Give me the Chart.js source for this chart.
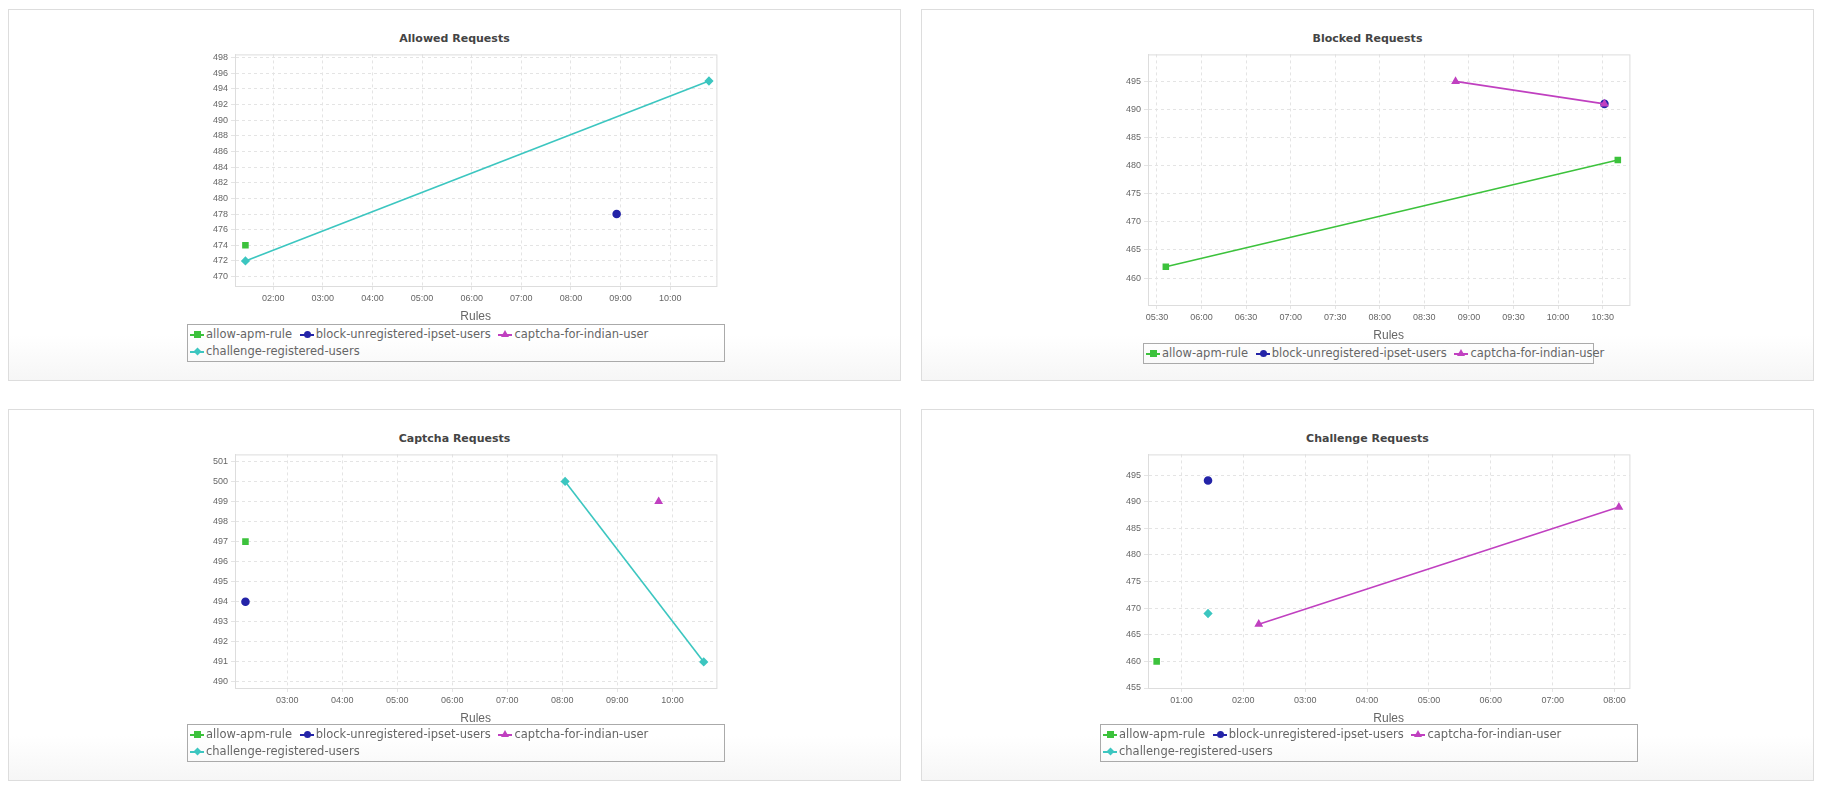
<!DOCTYPE html>
<html>
<head>
<meta charset="utf-8">
<script src="https://cdn.jsdelivr.net/npm/chart.js@4.4.1/dist/chart.umd.min.js"></script>
<style>
  body { margin:0; background:#fff; font-family:"DejaVu Sans", sans-serif; }
  .panel { position:absolute; width:893px; height:372px; border:1px solid #ddd; box-sizing:border-box;
           background:linear-gradient(#fff 88%, #f6f6f6); }
  .title { position:absolute; left:0; width:100%; top:22px; text-align:center; font-weight:bold; font-size:11px; color:#444; }
  .panel canvas { position:absolute; }
  .legend { position:absolute; border:1px solid #aaa; box-sizing:border-box; font-size:11.5px; color:#666; padding:1px 2px; line-height:17px; }
  .legend span.item { margin-right:4px; white-space:nowrap; }
  .legend i { display:inline-block; width:14px; height:2px; vertical-align:middle; position:relative; margin-right:2px; }
  .legend i b { position:absolute; left:4px; top:-3px; width:7px; height:7px; }
</style>
</head>
<body>
<div id="root"></div>
<script>
// series names and colours
const seriesNames = ['allow-apm-rule', 'block-unregistered-ipset-users', 'captcha-for-indian-user', 'challenge-registered-users'];
const seriesColors = ['#3cc23c', '#2424a8', '#c040c0', '#3cc6c0'];
const seriesShapes = ['rect', 'circle', 'triangle', 'rectRot'];

// x values are hours of the day
const allowedAllow = [[1.44, 474]];
const allowedBlock = [[8.92, 478]];
const allowedCaptcha = [];
const allowedChallenge = [[1.44, 472], [10.78, 495]];

const blockedAllow = [[5.60, 462], [10.67, 481]];
const blockedBlock = [[10.52, 491]];
const blockedCaptcha = [[8.85, 495], [10.52, 491]];

const captchaAllow = [[2.24, 497]];
const captchaBlock = [[2.24, 494]];
const captchaCaptcha = [[9.75, 499]];
const captchaChallenge = [[8.05, 500], [10.57, 491]];

const challengeAllow = [[0.60, 460]];
const challengeBlock = [[1.43, 494]];
const challengeCaptcha = [[2.25, 467], [8.07, 489]];
const challengeChallenge = [[1.43, 469]];

const panels = [
  { title:'Allowed Requests', left:8, top:9, series:[allowedAllow, allowedBlock, allowedCaptcha, allowedChallenge],
    xmin:1.23, xmax:10.93, xstep:1, ymin:468.8, ymax:498.4, ystep:2, plotBottom:276, legend:[178, 314, 538] },
  { title:'Blocked Requests', left:921, top:9, series:[blockedAllow, blockedBlock, blockedCaptcha],
    xmin:5.40, xmax:10.80, xstep:0.5, ymin:455.2, ymax:499.8, ystep:5, plotBottom:295, legend:[221, 333, 451] },
  { title:'Captcha Requests', left:8, top:409, series:[captchaAllow, captchaBlock, captchaCaptcha, captchaChallenge],
    xmin:2.05, xmax:10.80, xstep:1, ymin:489.7, ymax:501.35, ystep:1, plotBottom:278, legend:[178, 314, 538] },
  { title:'Challenge Requests', left:921, top:409, series:[challengeAllow, challengeBlock, challengeCaptcha, challengeChallenge],
    xmin:0.46, xmax:8.24, xstep:1, ymin:455, ymax:498.9, ystep:5, plotBottom:278, legend:[178, 314, 538] }
];

function hhmm(v) {
  const m = Math.round(v * 60);
  return String(Math.floor(m / 60)).padStart(2, '0') + ':' + String(m % 60).padStart(2, '0');
}

const root = document.getElementById('root');
panels.forEach(p => {
  const div = document.createElement('div');
  div.className = 'panel';
  div.style.left = p.left + 'px';
  div.style.top = p.top + 'px';
  div.innerHTML = '<div class="title">' + p.title + '</div>';
  const canvas = document.createElement('canvas');
  const cTop = 36, cLeft = 180, cWidth = 533;
  const cHeight = p.plotBottom + 38 - cTop;
  canvas.style.left = cLeft + 'px';
  canvas.style.top = cTop + 'px';
  canvas.style.width = cWidth + 'px';
  canvas.style.height = cHeight + 'px';
  div.appendChild(canvas);

  // legend
  const lg = document.createElement('div');
  lg.className = 'legend';
  lg.style.left = p.legend[0] + 'px';
  lg.style.top = p.legend[1] + 'px';
  lg.style.width = p.legend[2] + 'px';
  if (p.series.length < 4) lg.style.whiteSpace = 'nowrap';
  p.series.forEach((s, i) => {
    const c = seriesColors[i];
    let mark = 'background:' + c + ';';
    if (i === 1) mark += 'border-radius:50%;';
    if (i === 2) mark = 'width:0;height:0;background:none;border-left:4px solid transparent;border-right:4px solid transparent;border-bottom:7px solid ' + c + ';left:3px;top:-4px;';
    if (i === 3) mark += 'transform:rotate(45deg) scale(0.8);';
    lg.innerHTML += '<span class="item"><i style="background:' + c + '"><b style="' + mark + '"></b></i>' + seriesNames[i] + '</span> ';
  });
  div.appendChild(lg);
  root.appendChild(div);

  new Chart(canvas, {
    type: 'line',
    data: {
      datasets: p.series.map((s, i) => ({
        label: seriesNames[i],
        data: s.map(d => ({ x: d[0], y: d[1] })),
        borderColor: seriesColors[i],
        backgroundColor: seriesColors[i],
        pointStyle: seriesShapes[i],
        pointRadius: 3.5,
        borderWidth: 1.6,
        tension: 0
      })).reverse()
    },
    options: {
      responsive: false,
      animation: false,
      layout: { padding: { top: 7, right: 3 } },
      plugins: { legend: { display: false }, tooltip: { enabled: false } },
      scales: {
        x: {
          type: 'linear', min: p.xmin, max: p.xmax,
          afterBuildTicks: sc => {
            const t = [];
            for (let v = Math.ceil(p.xmin / p.xstep) * p.xstep; v <= p.xmax + 1e-9; v += p.xstep) t.push({ value: v });
            sc.ticks = t;
          },
          afterFit: sc => { sc.height = 38; },
          ticks: { callback: v => hhmm(v), font: { size: 9 }, color: '#666', maxRotation: 0, autoSkip: false },
          grid: { color: '#e4e4e4', tickLength: 4 },
          border: { display: true, color: '#ddd', dash: [3, 3] },
          title: { display: true, text: 'Rules', font: { size: 12 }, color: '#666', padding: 0 }
        },
        y: {
          min: p.ymin, max: p.ymax,
          afterBuildTicks: sc => {
            const t = [];
            for (let v = Math.ceil(p.ymin / p.ystep) * p.ystep; v <= p.ymax + 1e-9; v += p.ystep) t.push({ value: v });
            sc.ticks = t;
          },
          afterFit: sc => { sc.width = 46; },
          ticks: { font: { size: 9 }, color: '#666', autoSkip: false },
          grid: { color: '#e4e4e4', tickLength: 4 },
          border: { display: true, color: '#ddd', dash: [3, 3] }
        }
      }
    },
    plugins: [{
      id: 'frame',
      afterDraw: ch => {
        const a = ch.chartArea, ctx = ch.ctx;
        ctx.save(); ctx.strokeStyle = '#ddd'; ctx.lineWidth = 1;
        ctx.strokeRect(a.left + 0.5, a.top + 0.5, a.width, a.height);
        ctx.restore();
      }
    }]
  });
});
</script>
</body>
</html>
